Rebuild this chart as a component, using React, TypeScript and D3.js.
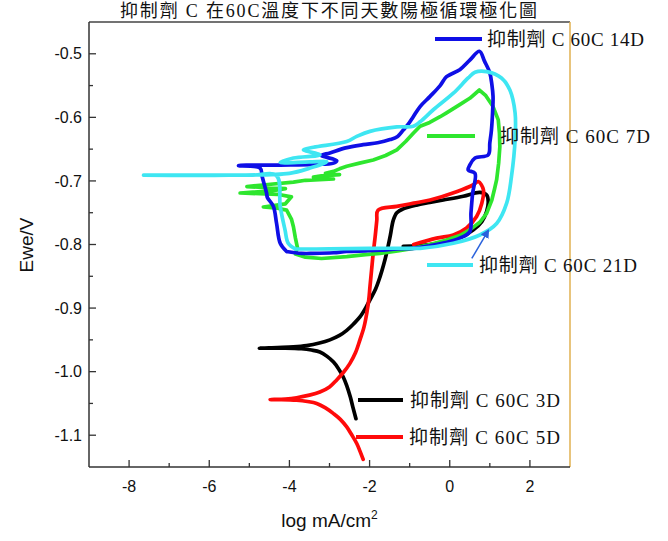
import React from "react";
import * as d3 from "d3";

type Pt = [number, number];

// ---- axis ticks ----
const xTicks = [-8, -6, -4, -2, 0, 2];
const xMinorTicks = [-7, -5, -3, -1, 1];
const yTicks = [-0.5, -0.6, -0.7, -0.8, -0.9, -1.0, -1.1];
const yMinorTicks = [-0.55, -0.65, -0.75, -0.85, -0.95, -1.05];

// ---- series (log mA/cm2, Ewe/V) ----
const series3D: Pt[] = [
  [-2.34, -1.074], [-2.42, -1.055], [-2.48, -1.04], [-2.57, -1.022], [-2.66, -1.008],
  [-2.78, -0.995], [-2.9, -0.985], [-3.06, -0.976], [-3.24, -0.969], [-3.45, -0.966],
  [-3.7, -0.964], [-4.1, -0.963], [-4.5, -0.963], [-4.75, -0.963], [-4.3, -0.962],
  [-3.9, -0.961], [-3.57, -0.959], [-3.25, -0.955], [-2.99, -0.95], [-2.75, -0.943],
  [-2.57, -0.935], [-2.4, -0.925], [-2.24, -0.914], [-2.1, -0.9], [-1.99, -0.887],
  [-1.85, -0.87], [-1.74, -0.851], [-1.65, -0.832], [-1.57, -0.812], [-1.48, -0.785],
  [-1.41, -0.762], [-1.32, -0.75], [-1.16, -0.744], [-0.83, -0.738], [-0.5, -0.734],
  [-0.16, -0.73], [0.34, -0.724], [0.75, -0.718], [0.92, -0.722], [0.96, -0.733],
  [0.92, -0.748], [0.8, -0.764], [0.59, -0.777], [0.3, -0.788], [0.0, -0.795],
  [-0.5, -0.8], [-1.16, -0.803],
];

const series5D: Pt[] = [
  [-2.16, -1.138], [-2.24, -1.125], [-2.32, -1.113], [-2.45, -1.099], [-2.57, -1.087],
  [-2.73, -1.075], [-2.9, -1.066], [-3.1, -1.057], [-3.32, -1.05], [-3.55, -1.047],
  [-3.82, -1.045], [-4.2, -1.044], [-4.48, -1.044], [-4.1, -1.043], [-3.82, -1.041],
  [-3.5, -1.037], [-3.24, -1.032], [-3.0, -1.024], [-2.82, -1.013], [-2.65, -1.001],
  [-2.49, -0.987], [-2.35, -0.97], [-2.24, -0.95], [-2.14, -0.93], [-2.07, -0.908],
  [-2.02, -0.887], [-1.99, -0.866], [-1.95, -0.84], [-1.91, -0.814], [-1.86, -0.787],
  [-1.82, -0.762], [-1.79, -0.746], [-1.32, -0.74], [-0.9, -0.735], [-0.49, -0.73],
  [0.17, -0.717], [0.59, -0.706], [0.71, -0.701], [0.84, -0.714], [0.8, -0.735],
  [0.67, -0.756], [0.42, -0.774], [0.09, -0.785], [-0.33, -0.79], [-0.9, -0.8],
];

const series7D: Pt[] = [
  [-3.85, -0.815], [-3.6, -0.82], [-3.2, -0.822], [-2.57, -0.819], [-2.1, -0.816],
  [-1.74, -0.814], [-1.3, -0.81], [-0.91, -0.806], [-0.5, -0.8], [-0.08, -0.793],
  [0.25, -0.786], [0.5, -0.777], [0.75, -0.765], [0.92, -0.751], [1.05, -0.73],
  [1.12, -0.712], [1.17, -0.698], [1.22, -0.672], [1.25, -0.646], [1.24, -0.625],
  [1.21, -0.604], [1.08, -0.583], [0.9, -0.566], [0.74, -0.557], [0.5, -0.57],
  [0.25, -0.58], [-0.08, -0.593], [-0.24, -0.599], [-0.5, -0.608], [-0.74, -0.614],
  [-0.91, -0.625], [-1.1, -0.638], [-1.32, -0.651], [-1.6, -0.66], [-1.91, -0.667],
  [-2.25, -0.672], [-2.57, -0.677], [-2.75, -0.681], [-2.9, -0.685], [-3.1, -0.688],
  [-2.75, -0.69], [-3.2, -0.692], [-3.4, -0.694], [-2.9, -0.697], [-3.6, -0.699],
  [-3.9, -0.702], [-4.6, -0.706], [-5.06, -0.709], [-4.1, -0.712], [-4.5, -0.716],
  [-5.23, -0.719], [-4.3, -0.721], [-3.95, -0.725], [-4.1, -0.736], [-4.65, -0.741],
  [-4.3, -0.743], [-4.07, -0.746], [-3.95, -0.76], [-3.9, -0.772], [-3.85, -0.79],
  [-3.8, -0.805], [-3.85, -0.815],
];

const series14D: Pt[] = [
  [-4.07, -0.811], [-3.7, -0.814], [-3.4, -0.814], [-2.9, -0.813], [-2.57, -0.811],
  [-2.1, -0.81], [-1.74, -0.809], [-1.3, -0.807], [-0.91, -0.806], [-0.5, -0.802],
  [-0.1, -0.797], [0.25, -0.79], [0.5, -0.78], [0.53, -0.75], [0.57, -0.72],
  [0.63, -0.688], [0.46, -0.683], [0.5, -0.675], [0.63, -0.664], [0.96, -0.659],
  [1.0, -0.64], [1.04, -0.62], [1.07, -0.59], [1.08, -0.567], [1.05, -0.548],
  [1.0, -0.53], [0.87, -0.512], [0.74, -0.496], [0.5, -0.51], [0.25, -0.525],
  [-0.08, -0.536], [-0.24, -0.55], [-0.49, -0.567], [-0.74, -0.583], [-0.91, -0.599],
  [-1.05, -0.612], [-1.16, -0.62], [-1.3, -0.63], [-1.49, -0.635], [-1.8, -0.64],
  [-2.16, -0.643], [-2.6, -0.648], [-2.99, -0.656], [-3.2, -0.66], [-2.82, -0.668],
  [-2.9, -0.672], [-3.4, -0.674], [-4.23, -0.675], [-5.27, -0.676], [-4.73, -0.68],
  [-4.68, -0.693], [-4.57, -0.719], [-4.55, -0.726], [-4.4, -0.74], [-4.32, -0.767],
  [-4.23, -0.798], [-4.07, -0.811],
];

const series21D: Pt[] = [
  [-3.85, -0.807], [-3.0, -0.807], [-2.0, -0.806], [-0.91, -0.806], [-0.74, -0.806],
  [0.09, -0.798], [0.75, -0.785], [1.17, -0.767], [1.42, -0.735], [1.54, -0.693],
  [1.63, -0.635], [1.63, -0.593], [1.5, -0.557], [1.29, -0.538], [0.92, -0.528],
  [0.63, -0.529], [0.46, -0.538], [0.09, -0.562], [-0.41, -0.588], [-0.74, -0.607],
  [-0.91, -0.614], [-1.32, -0.615], [-1.99, -0.622], [-2.32, -0.63], [-2.57, -0.638],
  [-3.4, -0.647], [-3.65, -0.651], [-3.24, -0.659], [-3.9, -0.664], [-4.23, -0.671],
  [-3.5, -0.67], [-3.07, -0.67], [-3.5, -0.68], [-4.0, -0.688], [-5.5, -0.691],
  [-7.64, -0.691], [-5.0, -0.691], [-4.32, -0.692], [-4.23, -0.74], [-4.11, -0.777],
  [-4.03, -0.798], [-3.85, -0.807],
];

const seriesNames = ["抑制劑 C 60C 3D", "抑制劑 C 60C 5D", "抑制劑 C 60C 7D", "抑制劑 C 60C 14D", "抑制劑 C 60C 21D"];
const seriesColors = ["#000000", "#ff0a0a", "#2ee62e", "#0f0fe6", "#3ee6f2"];
const seriesData = [series3D, series5D, series7D, series14D, series21D];

const titleText = "抑制劑 C 在60C溫度下不同天數陽極循環極化圖";
const xLabel = "log mA/cm";
const yLabel = "Ewe/V";

// ---- layout (pixels) ----
const W = 668, H = 541;
const X0 = 89, X1 = 570, Y0 = 467, Y1 = 22;
// legend placements per series: [lineX1, lineX2, lineY, textX, textWidth]
const legendPos: [number, number, number, number, number][] = [
  [358, 403, 400, 410, 150],
  [356, 403, 437, 409, 151],
  [427, 475, 136, 500, 150],
  [435, 482, 39, 487, 157],
  [427, 473, 265, 479, 158],
];

const CJK = "'Liberation Serif', 'Noto Sans CJK TC', serif";
const SANS = "'Liberation Sans', Arial, sans-serif";

export default function App() {
  const x = d3.scaleLinear().domain([-9, 3]).range([X0, X1]);
  const y = d3.scaleLinear().domain([-1.15, -0.45]).range([Y0, Y1]);
  const smooth = d3
    .line<Pt>()
    .x((d) => x(d[0]))
    .y((d) => y(d[1]))
    .curve(d3.curveCatmullRom.alpha(0.5));
  const straight = d3
    .line<Pt>()
    .x((d) => x(d[0]))
    .y((d) => y(d[1]))
    .curve(d3.curveLinear);

  return (
    <svg width={W} height={H} style={{ position: "absolute", left: 0, top: 0, background: "#fff" }}>
      <defs>
        <marker id="arr" viewBox="0 0 10 10" refX="8" refY="5" markerWidth="6" markerHeight="6" orient="auto">
          <path d="M0,0 L10,5 L0,10 z" fill="#2a62dc" />
        </marker>
      </defs>
      <rect x={0} y={0} width={W} height={H} fill="#fff" />
      {/* title */}
      <text x={120} y={17} fontFamily={CJK} fontSize={18} textLength={417} lengthAdjust="spacing" fill="#111">
        {titleText}
      </text>

      {/* frame */}
      <line x1={X0} x2={X1} y1={Y1} y2={Y1} stroke="#444" strokeWidth={1.5} />
      <line x1={X1} x2={X1} y1={Y1} y2={Y0} stroke="#e0b050" strokeWidth={1.5} />

      {/* series */}
      {seriesData.map((s, i) => (
        <path key={i} d={(i === 2 ? straight(s) : smooth(s)) || ""} fill="none" stroke={seriesColors[i]} strokeWidth={3.7}
          strokeLinejoin="round" strokeLinecap="round" />
      ))}

      {/* arrow */}
      <line x1={x(0.55)} y1={y(-0.822)} x2={x(0.96)} y2={y(-0.778)} stroke="#2a62dc" strokeWidth={1.5} markerEnd="url(#arr)" />

      {/* axes */}
      <line x1={X0} x2={X0} y1={Y1} y2={Y0} stroke="#333" strokeWidth={1.5} />
      <line x1={X0} x2={X1} y1={Y0} y2={Y0} stroke="#333" strokeWidth={1.5} />
      {xTicks.map((t) => (
        <g key={"xt" + t}>
          <line x1={x(t)} x2={x(t)} y1={Y0} y2={Y0 - 7} stroke="#333" strokeWidth={1.3} />
          <text x={x(t)} y={Y0 + 25} textAnchor="middle" fontFamily={SANS} fontSize={16} fill="#111">{String(t)}</text>
        </g>
      ))}
      {xMinorTicks.map((t) => (
        <line key={"xm" + t} x1={x(t)} x2={x(t)} y1={Y0} y2={Y0 - 4} stroke="#333" strokeWidth={1.3} />
      ))}
      {yTicks.map((t) => (
        <g key={"yt" + t}>
          <line x1={X0} x2={X0 + 7} y1={y(t)} y2={y(t)} stroke="#333" strokeWidth={1.3} />
          <text x={X0 - 7} y={y(t)} dy="0.35em" textAnchor="end" fontFamily={SANS} fontSize={16} fill="#111">{t.toFixed(1)}</text>
        </g>
      ))}
      {yMinorTicks.map((t) => (
        <line key={"ym" + t} x1={X0} x2={X0 + 4} y1={y(t)} y2={y(t)} stroke="#333" strokeWidth={1.3} />
      ))}

      {/* axis titles */}
      <text x={(X0 + X1) / 2} y={527} textAnchor="middle" fontFamily={SANS} fontSize={19} fill="#111">
        {xLabel}<tspan dy={-8} fontSize={12}>2</tspan>
      </text>
      <text transform={`translate(33,245) rotate(-90)`} textAnchor="middle" fontFamily={SANS} fontSize={19} fill="#111">
        {yLabel}
      </text>

      {/* legends */}
      {seriesNames.map((n, i) => {
        const [lx1, lx2, ly, tx, tw] = legendPos[i];
        return (
          <g key={"lg" + i}>
            <line x1={lx1} x2={lx2} y1={ly} y2={ly} stroke={seriesColors[i]} strokeWidth={4} />
            <text x={tx} y={ly} dy="0.38em" fontFamily={CJK} fontSize={19} textLength={tw} lengthAdjust="spacing" fill="#111">{n}</text>
          </g>
        );
      })}
    </svg>
  );
}
